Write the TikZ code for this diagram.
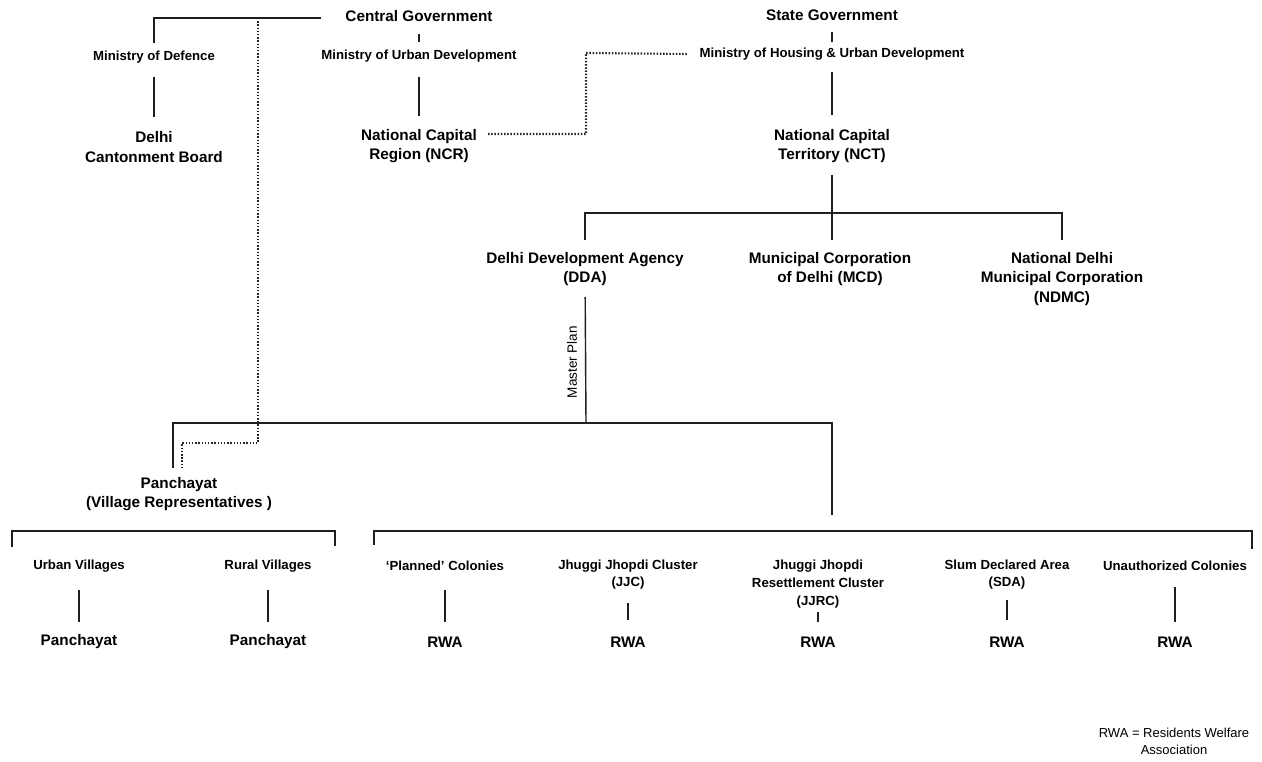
\documentclass[tikz,border=0pt]{standalone}
\usepackage{fontspec}
\setmainfont{Liberation Sans}
\begin{document}
\begin{tikzpicture}[x=1pt,y=-1pt,
  big/.style={font=\fontsize{15.3}{19.5}\selectfont\bfseries, align=center, inner sep=0pt},
  small/.style={font=\fontsize{13.2}{17.8}\selectfont\bfseries, align=center, inner sep=0pt},
  link/.style={line width=1.4pt, draw=black!88},
  dotline/.style={line width=2.1pt, dash pattern=on 1.5pt off 1.7pt, draw=black!85},
]
\useasboundingbox[fill=white] (0,0) rectangle (1262,762);

% ---- top level
\node[big] (cg) at (419,16) {Central Government};
\node[small] (mud) at (419,56) {Ministry of Urban Development};
\node[big] (ncr) at (419,146) {National Capital\\Region (NCR)};
\node[small] (mod) at (154,57) {Ministry of Defence};
\node[big] (dcb) at (154,147) {Delhi\\Cantonment Board};
\node[big] (sg) at (832,15) {State Government};
\node[small] (mhud) at (832,54) {Ministry of Housing \& Urban Development};
\node[big] (nct) at (832,146) {National Capital\\Territory (NCT)};

% ---- second level
\node[big] (dda) at (585,269) {Delhi Development Agency\\(DDA)};
\node[big] (mcd) at (830,269) {Municipal Corporation\\of Delhi (MCD)};
\node[big] (ndmc) at (1062,279) {National Delhi\\Municipal Corporation\\(NDMC)};
\node[rotate=90, inner sep=0pt, font=\fontsize{13.5}{16}\selectfont] (mp) at (572,362) {Master Plan};

% ---- third level
\node[big] (pan) at (179,494) {Panchayat\\(Village Representatives )};

% ---- bottom row
\node[small] (uv) at (79,566) {Urban Villages};
\node[small] (rv) at (268,566) {Rural Villages};
\node[small] (pc) at (445,566) {‘Planned’ Colonies};
\node[small] (jjc) at (628,574.5) {Jhuggi Jhopdi Cluster\\(JJC)};
\node[small] (jjrc) at (818,584) {Jhuggi Jhopdi\\Resettlement Cluster\\(JJRC)};
\node[small] (sda) at (1007,574.5) {Slum Declared Area\\(SDA)};
\node[small] (uc) at (1175,566) {Unauthorized Colonies};

\node[big] (p1) at (79,642) {Panchayat};
\node[big] (p2) at (268,642) {Panchayat};
\node[big] (r1) at (445,642) {RWA};
\node[big] (r2) at (628,642) {RWA};
\node[big] (r3) at (818,642) {RWA};
\node[big] (r4) at (1007,642) {RWA};
\node[big] (r5) at (1175,642) {RWA};

\node[align=center, inner sep=0pt, font=\fontsize{13}{17}\selectfont] (legend) at (1174,741) {RWA = Residents Welfare\\Association};

% ---- named coordinates
\coordinate (d0) at (258,18);
\coordinate (dj) at (258,443);
\coordinate (nm) at (586,53);
\coordinate (b1) at (832,213);
\coordinate (b2) at (586,423);
\coordinate (b2r) at (832,423);
\coordinate (rbt) at (832,531);
\coordinate (lbl) at (12,547);
\coordinate (lbr) at (335,546);
\coordinate (rbl) at (374,545);
\coordinate (rbr) at (1252,549);

% ---- solid connectors
\draw[link, shorten <=24pt, shorten >=14pt] ([yshift=-2pt]cg.west) -| (mod.center);
\draw[link, shorten <=18pt, shorten >=14pt] (cg.center) -- (mud.center);
\draw[link, shorten <=21pt, shorten >=30pt] (mud.center) -- (ncr.center);
\draw[link, shorten <=20pt, shorten >=30pt] (mod.center) -- (dcb.center);
\draw[link, shorten <=17pt, shorten >=12pt] (sg.center) -- (mhud.center);
\draw[link, shorten <=18pt, shorten >=31pt] (mhud.center) -- (nct.center);
\draw[link, shorten <=29pt, shorten >=29pt] (nct.center) -- (nct.center |- mcd.center);
\draw[link, shorten <=29pt, shorten >=39pt] (dda.center) |- (b1) -| (ndmc.center);
\draw[link, shorten <=28pt] (dda.center) -- (b2);
\draw[link, shorten <=26pt, shorten >=16pt] ([xshift=-6pt]pan.center) |- (b2r) -- (rbt);

% brackets
\draw[link] (lbl) -- ++(0,-16) -| (lbr);
\draw[link] (rbl) -- ++(0,-14) -| (rbr);

% bottom verticals
\draw[link, shorten <=24pt, shorten >=20pt] (uv.center) -- (p1.center);
\draw[link, shorten <=24pt, shorten >=20pt] (rv.center) -- (p2.center);
\draw[link, shorten <=24pt, shorten >=20pt] (pc.center) -- (r1.center);
\draw[link, shorten <=28.5pt, shorten >=22pt] (jjc.center) -- (r2.center);
\draw[link, shorten <=28pt, shorten >=20pt] (jjrc.center) -- (r3.center);
\draw[link, shorten <=25.5pt, shorten >=22pt] (sda.center) -- (r4.center);
\draw[link, shorten <=21pt, shorten >=20pt] (uc.center) -- (r5.center);

% ---- dotted connectors
\draw[dotline, shorten >=26pt] (d0) -- (dj) -| ([xshift=3pt]pan.center);
\draw[dotline] ([xshift=11pt,yshift=12pt]ncr.east) -| (nm) -- ([xshift=-12pt]mhud.west);
\end{tikzpicture}
\end{document}
